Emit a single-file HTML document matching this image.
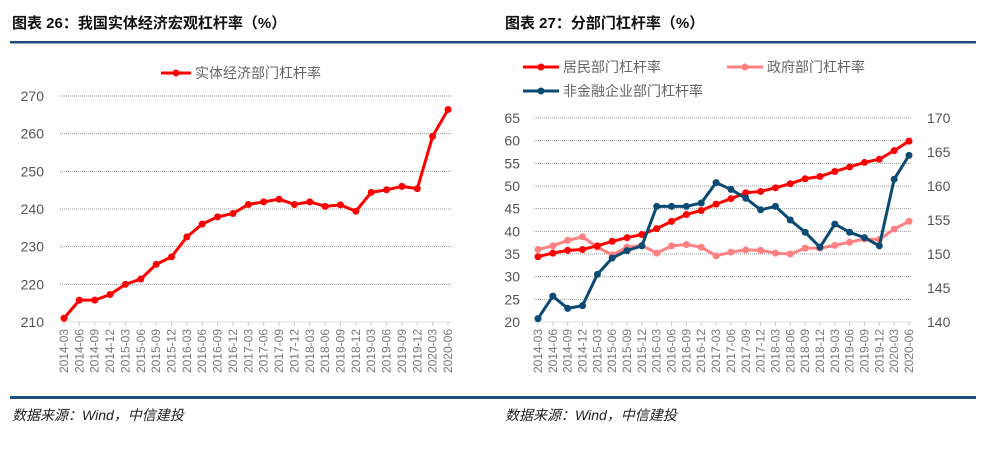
<!DOCTYPE html>
<html><head><meta charset="utf-8"><style>
html,body{margin:0;padding:0;background:#fff;width:1000px;height:449px;overflow:hidden}
svg text{font-family:"Liberation Sans","Noto Sans CJK SC",sans-serif}
</style></head><body>
<svg id="s" width="1000" height="449" xmlns="http://www.w3.org/2000/svg">
<text x="12" y="28" font-size="15" font-weight="bold" fill="#111" font-family="'Liberation Serif','Noto Serif CJK SC',serif">图表 26：我国实体经济宏观杠杆率（%）</text>
<text x="505" y="28" font-size="15" font-weight="bold" fill="#111" font-family="'Liberation Serif','Noto Serif CJK SC',serif">图表 27：分部门杠杆率（%）</text>
<rect x="10" y="41" width="966" height="2.5" fill="#1f4e79"/>
<rect x="10" y="396" width="966" height="3" fill="#1f4e79"/>
<text x="12" y="420" font-size="14" font-style="italic" fill="#222">数据来源：Wind，中信建投</text>
<text x="505" y="420" font-size="14" font-style="italic" fill="#222">数据来源：Wind，中信建投</text>
<g id="c1"></g><g id="c2"></g>
</svg>
<script>
const categories=["2014-03","2014-06","2014-09","2014-12","2015-03","2015-06","2015-09","2015-12","2016-03","2016-06","2016-09","2016-12","2017-03","2017-06","2017-09","2017-12","2018-03","2018-06","2018-09","2018-12","2019-03","2019-06","2019-09","2019-12","2020-03","2020-06"];
const realEconomy=[211,215.8,215.8,217.3,220,221.4,225.3,227.3,232.6,236,237.9,238.8,241.2,241.9,242.6,241.2,241.9,240.7,241.1,239.4,244.4,245.1,246,245.4,259.3,266.4];
const leftTicks1=[210,220,230,240,250,260,270];
const household=[34.4,35.2,35.8,36,36.8,37.8,38.6,39.3,40.6,42.2,43.7,44.6,46,47.2,48.5,48.8,49.6,50.5,51.6,52.1,53.2,54.2,55.2,55.9,57.8,59.9];
const government=[36,36.8,38,38.8,36.5,34.8,36.5,36.9,35.2,36.8,37.1,36.5,34.6,35.4,35.9,35.8,35.2,35,36.3,36.3,36.9,37.6,38.3,38.2,40.5,42.2];
const nonFinancial=[140.5,143.8,142,142.4,147,149.4,150.5,151.2,157,157,157,157.5,160.5,159.5,158.2,156.5,157,155,153.2,151,154.4,153.2,152.4,151.2,161,164.5];
const leftTicks2=[20,25,30,35,40,45,50,55,60,65];
const rightTicks2=[140,145,150,155,160,165,170];
const NS="http://www.w3.org/2000/svg";
function mk(p,t,a){const e=document.createElementNS(NS,t);for(const k in a)e.setAttribute(k,a[k]);p.appendChild(e);return e;}
function drawAxisX(g,x,yBase){
  categories.forEach((c,i)=>{const px=x(i);
    const t=mk(g,'line',{x1:px,y1:yBase,x2:px,y2:yBase+4,stroke:'#ccc'});
    
    
    const tx=mk(g,'text',{x:0,y:0,'font-size':12,fill:'#777','text-anchor':'end',transform:`translate(${px+4},${yBase+7}) rotate(-90)`});
    tx.textContent=c;
    
    
  });
}
function series(g,vals,x,y,color,name,r,w){
  const pl=mk(g,'polyline',{points:vals.map((v,i)=>x(i)+','+y(v)).join(' '),fill:'none',stroke:color,'stroke-width':w});
  
  
  vals.forEach((v,i)=>{const c=mk(g,'circle',{cx:x(i),cy:y(v),r:r,fill:color});
    
    });
}
(function(){
  const g=document.getElementById('c1');
  const x0=64,x1=448,yT=96,yB=322;
  const x=i=>x0+i*(x1-x0)/(categories.length-1);
  const y=v=>yB-(v-210)/(270-210)*(yB-yT);
  leftTicks1.forEach(t=>{
    const l=mk(g,'line',{x1:60,x2:452,y1:y(t),y2:y(t),stroke:t==210?'#ddd':'#999','stroke-dasharray':t==210?'':'1 1'});
    
    
    const tx=mk(g,'text',{x:44,y:y(t)+5,'font-size':14,fill:'#555','text-anchor':'end'});tx.textContent=t;
    
    
  });
  drawAxisX(g,x,yB);
  series(g,realEconomy,x,y,'#ff0000','real-economy',3.5,3);
  const lg=mk(g,'g',{});
  
  
  mk(lg,'line',{x1:161,x2:191,y1:73,y2:73,stroke:'#f00','stroke-width':3});
  mk(lg,'circle',{cx:176,cy:73,r:3.5,fill:'#f00'});
  const lt=mk(lg,'text',{x:195,y:78,'font-size':14,fill:'#666'});lt.textContent='实体经济部门杠杆率';
})();
(function(){
  const g=document.getElementById('c2');
  const x0=538,x1=909,yT=118,yB=322;
  const x=i=>x0+i*(x1-x0)/(categories.length-1);
  const y=v=>yB-(v-20)/(65-20)*(yB-yT);
  const yr=v=>yB-(v-140)/(170-140)*(yB-yT);
  leftTicks2.forEach(t=>{
    const l=mk(g,'line',{x1:534,x2:912,y1:y(t),y2:y(t),stroke:t==20?'#ddd':'#999','stroke-dasharray':t==20?'':'1 1'});
    
    
    const tx=mk(g,'text',{x:520,y:y(t)+5,'font-size':14,fill:'#555','text-anchor':'end'});tx.textContent=t;
    
    
  });
  rightTicks2.forEach(t=>{
    const tx=mk(g,'text',{x:927,y:yr(t)+5,'font-size':14,fill:'#555'});tx.textContent=t;
    
    
  });
  drawAxisX(g,x,yB);
  series(g,government,x,y,'#ff8080','government',3.5,3);
  series(g,household,x,y,'#ff0000','household',3.5,3);
  series(g,nonFinancial,x,yr,'#0b4a73','non-financial',3.5,3);
  const L=[[523,67,'#ff0000','居民部门杠杆率'],[727,67,'#ff8080','政府部门杠杆率'],[523,91,'#0b4a73','非金融企业部门杠杆率']];
  L.forEach(l=>{const lg=mk(g,'g',{});
    
    
    mk(lg,'line',{x1:l[0],x2:l[0]+36,y1:l[1],y2:l[1],stroke:l[2],'stroke-width':3});
    mk(lg,'circle',{cx:l[0]+18,cy:l[1],r:3.5,fill:l[2]});
    const t=mk(lg,'text',{x:l[0]+40,y:l[1]+5,'font-size':14,fill:'#666'});t.textContent=l[3];});
})();
</script>
</body></html>
